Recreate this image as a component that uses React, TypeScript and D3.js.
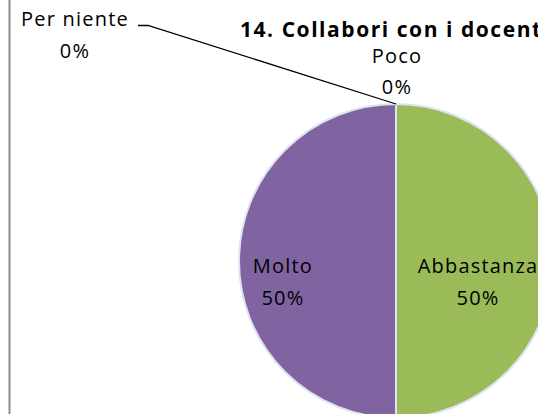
import React from "react";
import * as d3 from "d3";

const categories = ["Per niente", "Poco", "Abbastanza", "Molto"];
const values = [0, 0, 50, 50];
const colors = ["#4F81BD", "#C0504D", "#9BBB59", "#8064A2"];
const title = "14. Collabori con i docenti?";

const W = 538;
const H = 414;

export default function App() {
  const cx = 396;
  const cy = 261;
  const r = 157;
  const total = d3.sum(values);
  const pie = d3.pie<number>().sort(null).value((d) => d)(values);
  const arc = d3.arc<d3.PieArcDatum<number>>().innerRadius(0).outerRadius(r);
  const labelArc = d3.arc<d3.PieArcDatum<number>>().innerRadius(r * 0.72).outerRadius(r * 0.72);
  const pct = (v: number) => `${d3.format(".0f")((v / total) * 100)}%`;
  const font = "'Open Sans', 'Liberation Sans', sans-serif";
  const fs = 20;
  const ls = 1.2;

  const labels = pie.map((p, i) => {
    const [lx, ly] = labelArc.centroid(p);
    if (i === 0) return { x: 75, y: 26, gap: 32, name: categories[i], v: values[i] };
    if (i === 1) return { x: cx + 1, y: 63, gap: 31, name: categories[i], v: values[i] };
    return { x: cx + lx + (i === 2 ? -31 : 0), y: cy + ly + 12, gap: 32, name: categories[i], v: values[i] };
  });

  return (
    <svg width={W} height={H} style={{ position: "absolute", left: 0, top: 0 }}>
      <rect x={0} y={0} width={W} height={H} fill="#fff" />
      <line x1={9.5} y1={0} x2={9.5} y2={H} stroke="#8c8c8c" strokeWidth={2} />
      <g transform={`translate(${cx},${cy})`}>
        {pie.map((p, i) =>
          p.value > 0 ? (
            <path key={i} d={arc(p) || ""} fill={colors[i]} stroke="#dde4f1" strokeWidth={2} />
          ) : null
        )}
      </g>
      <polyline
        points={`138,25.5 148,25.5 ${cx},${cy - r}`}
        fill="none"
        stroke="#000"
        strokeWidth={1.3}
      />
      <text
        x={240}
        y={37}
        textAnchor="start"
        fontFamily={font}
        fontWeight="bold"
        fontSize={21}
        letterSpacing={1.55}
      >
        {title}
      </text>
      {labels.map((l, i) => (
        <g key={i} fontFamily={font} fontSize={fs} fill="#000" textAnchor="middle" letterSpacing={ls}>
          <text x={l.x} y={l.y}>{l.name}</text>
          <text x={l.x} y={l.y + l.gap}>{pct(l.v)}</text>
        </g>
      ))}
    </svg>
  );
}
